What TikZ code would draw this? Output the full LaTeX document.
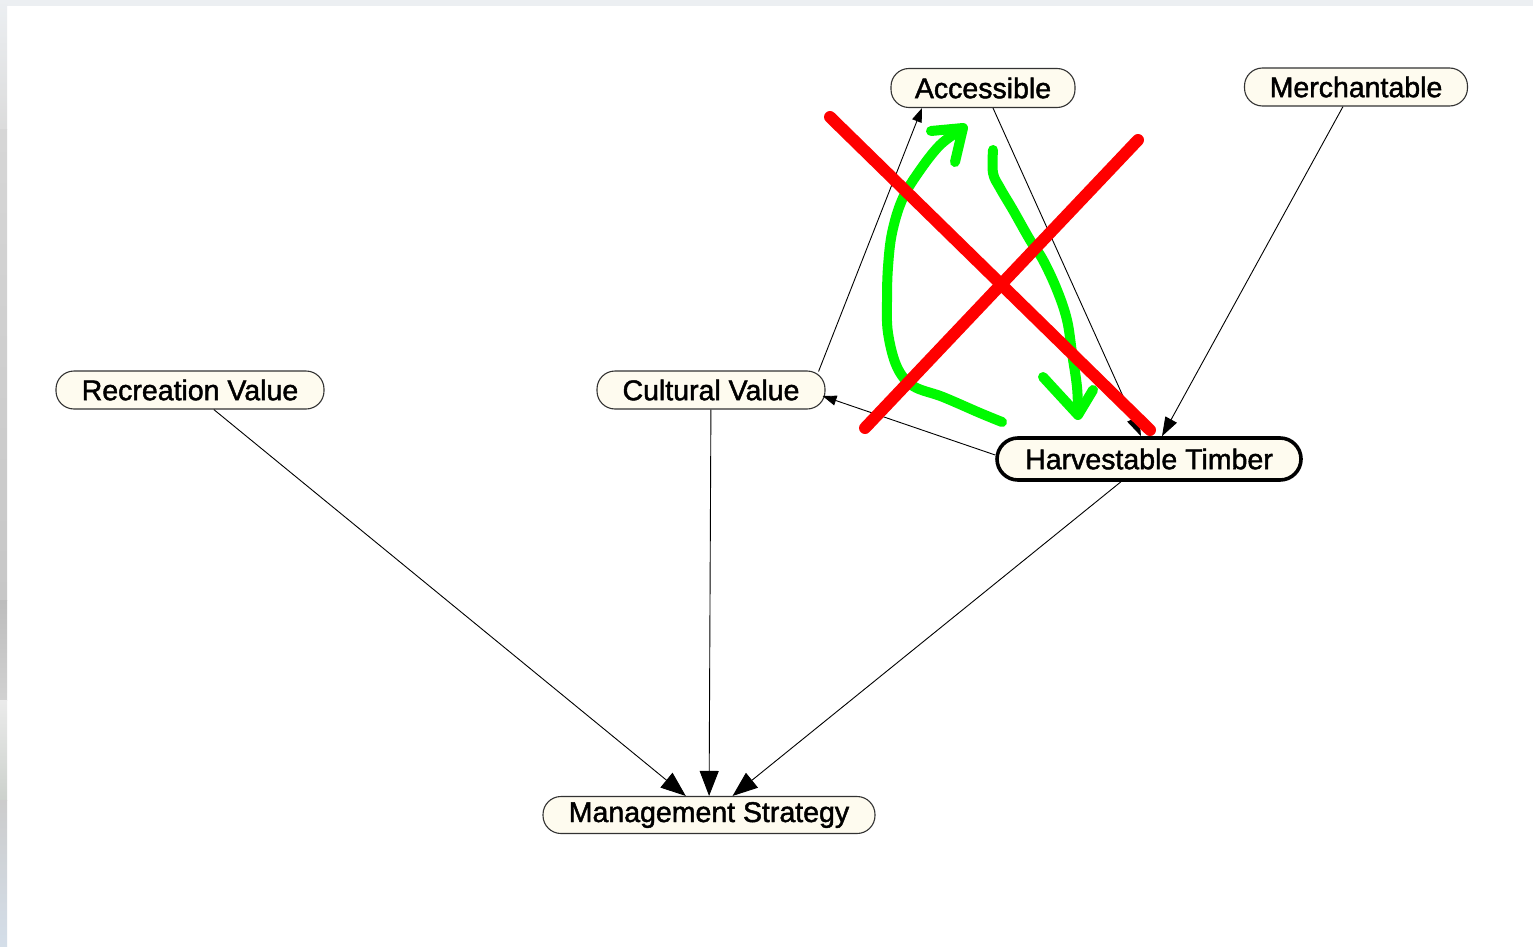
\documentclass[tikz,border=0pt]{standalone}
\usepackage{fontspec}
\newfontfamily\lblfont{Liberation Sans}[BoldFont=Liberation Sans, BoldFeatures={FakeBold=1.6}]
\usetikzlibrary{arrows.meta,calc}
\definecolor{nodefill}{RGB}{254,251,239}
\definecolor{stripgray}{RGB}{236,239,242}
\definecolor{markred}{RGB}{255,0,0}
\definecolor{markgreen}{RGB}{0,250,0}
\tikzset{
  var/.style={draw=black!80, line width=1.1pt, fill=nodefill, rounded corners=18pt,
    inner sep=0pt, font=\lblfont\bfseries\fontsize{28.5}{32}\selectfont},
  focus/.style={var, line width=3.6pt, draw=black, rounded corners=21pt},
  link/.style={line width=0.9pt, draw=black},
  bighead/.style={link, -{Triangle[length=25pt,width=19pt]}},
  midhead/.style={link, -{Triangle[length=19pt,width=13pt]}},
  smallhead/.style={link, -{Triangle[length=14pt,width=10pt]}},
  redmark/.style={draw=markred, line width=12pt, line cap=round, line join=round},
  greenmark/.style={draw=markgreen, line width=10pt, line cap=round, line join=round}
}
\begin{document}
\begin{tikzpicture}[x=1pt,y=-1pt]
  % canvas and window edges
  \useasboundingbox (0,0) rectangle (1533,947);
  \fill[white] (0,0) rectangle (1533,947);
  \fill[stripgray] (0,0) rectangle (1533,6);
  \shade[top color=stripgray, bottom color=black!14] (0,0) rectangle (7,130);
  \shade[top color=black!16, bottom color=black!22] (0,130) rectangle (7,600);
  \shade[top color=black!26, bottom color=black!18] (0,600) rectangle (7,700);
  \shade[top color=black!8, bottom color=green!10!black!20] (0,700) rectangle (7,800);
  \shade[top color=black!20, bottom color={rgb,255:red,212;green,222;blue,233}] (0,800) rectangle (7,947);

  % variables
  \node[var, minimum width=184pt, minimum height=39pt] (acc)  at (983,88)  {Accessible};
  \node[var, minimum width=223pt, minimum height=38pt] (mer)  at (1356,87) {Merchantable};
  \node[var, minimum width=268pt, minimum height=38pt] (rec)  at (190,390) {Recreation Value};
  \node[var, minimum width=228pt, minimum height=38pt] (cul)  at (711,390) {Cultural Value};
  \node[focus, minimum width=304pt, minimum height=42pt] (har) at (1149,459) {Harvestable Timber};
  \node[var, minimum width=332pt, minimum height=37pt] (man)  at (709,815) {Management Strategy};

  % dependencies
  \draw[bighead] (rec) -- (man);
  \draw[bighead] (cul) -- (man);
  \draw[bighead] (har) -- (man);
  \draw[smallhead] ($(cul.north east)+(-7,1)$) -- ($(acc.south)+(-61,0)$);
  \draw[midhead] ($(acc.south)+(10,0)$) -- ($(har.north)+(-8,0)$);
  \draw[midhead] ($(mer.south)+(-13,0)$) -- ($(har.north)+(13,0)$);
  \draw[smallhead] ($(har.west)+(0,-4)$) -- ($(cul.east)+(-3,6)$);

  % hand-drawn reversal strokes
  \draw[greenmark] plot[smooth, tension=0.6] coordinates {(1002,422) (980,413) (943,397)
    (913,386) (897,367) (888,333) (887,300) (888,267) (892,233) (902,200) (918,173)
    (940,145) (962,129)};
  \draw[greenmark] (931,131) -- (963,128) -- (955,162);
  \draw[greenmark] plot[smooth, tension=0.6] coordinates {(993,150) (993,173) (1000,188)
    (1013,210) (1030,240) (1043,260) (1057,290) (1067,320) (1072,353) (1077,387) (1078,413)};
  \draw[greenmark] (1043,377) -- (1078,415) -- (1093,390);

  % crossing-out
  \draw[redmark] (830,117) -- (1150,430);
  \draw[redmark] (1138,140) -- (865,428);
\end{tikzpicture}
\end{document}
